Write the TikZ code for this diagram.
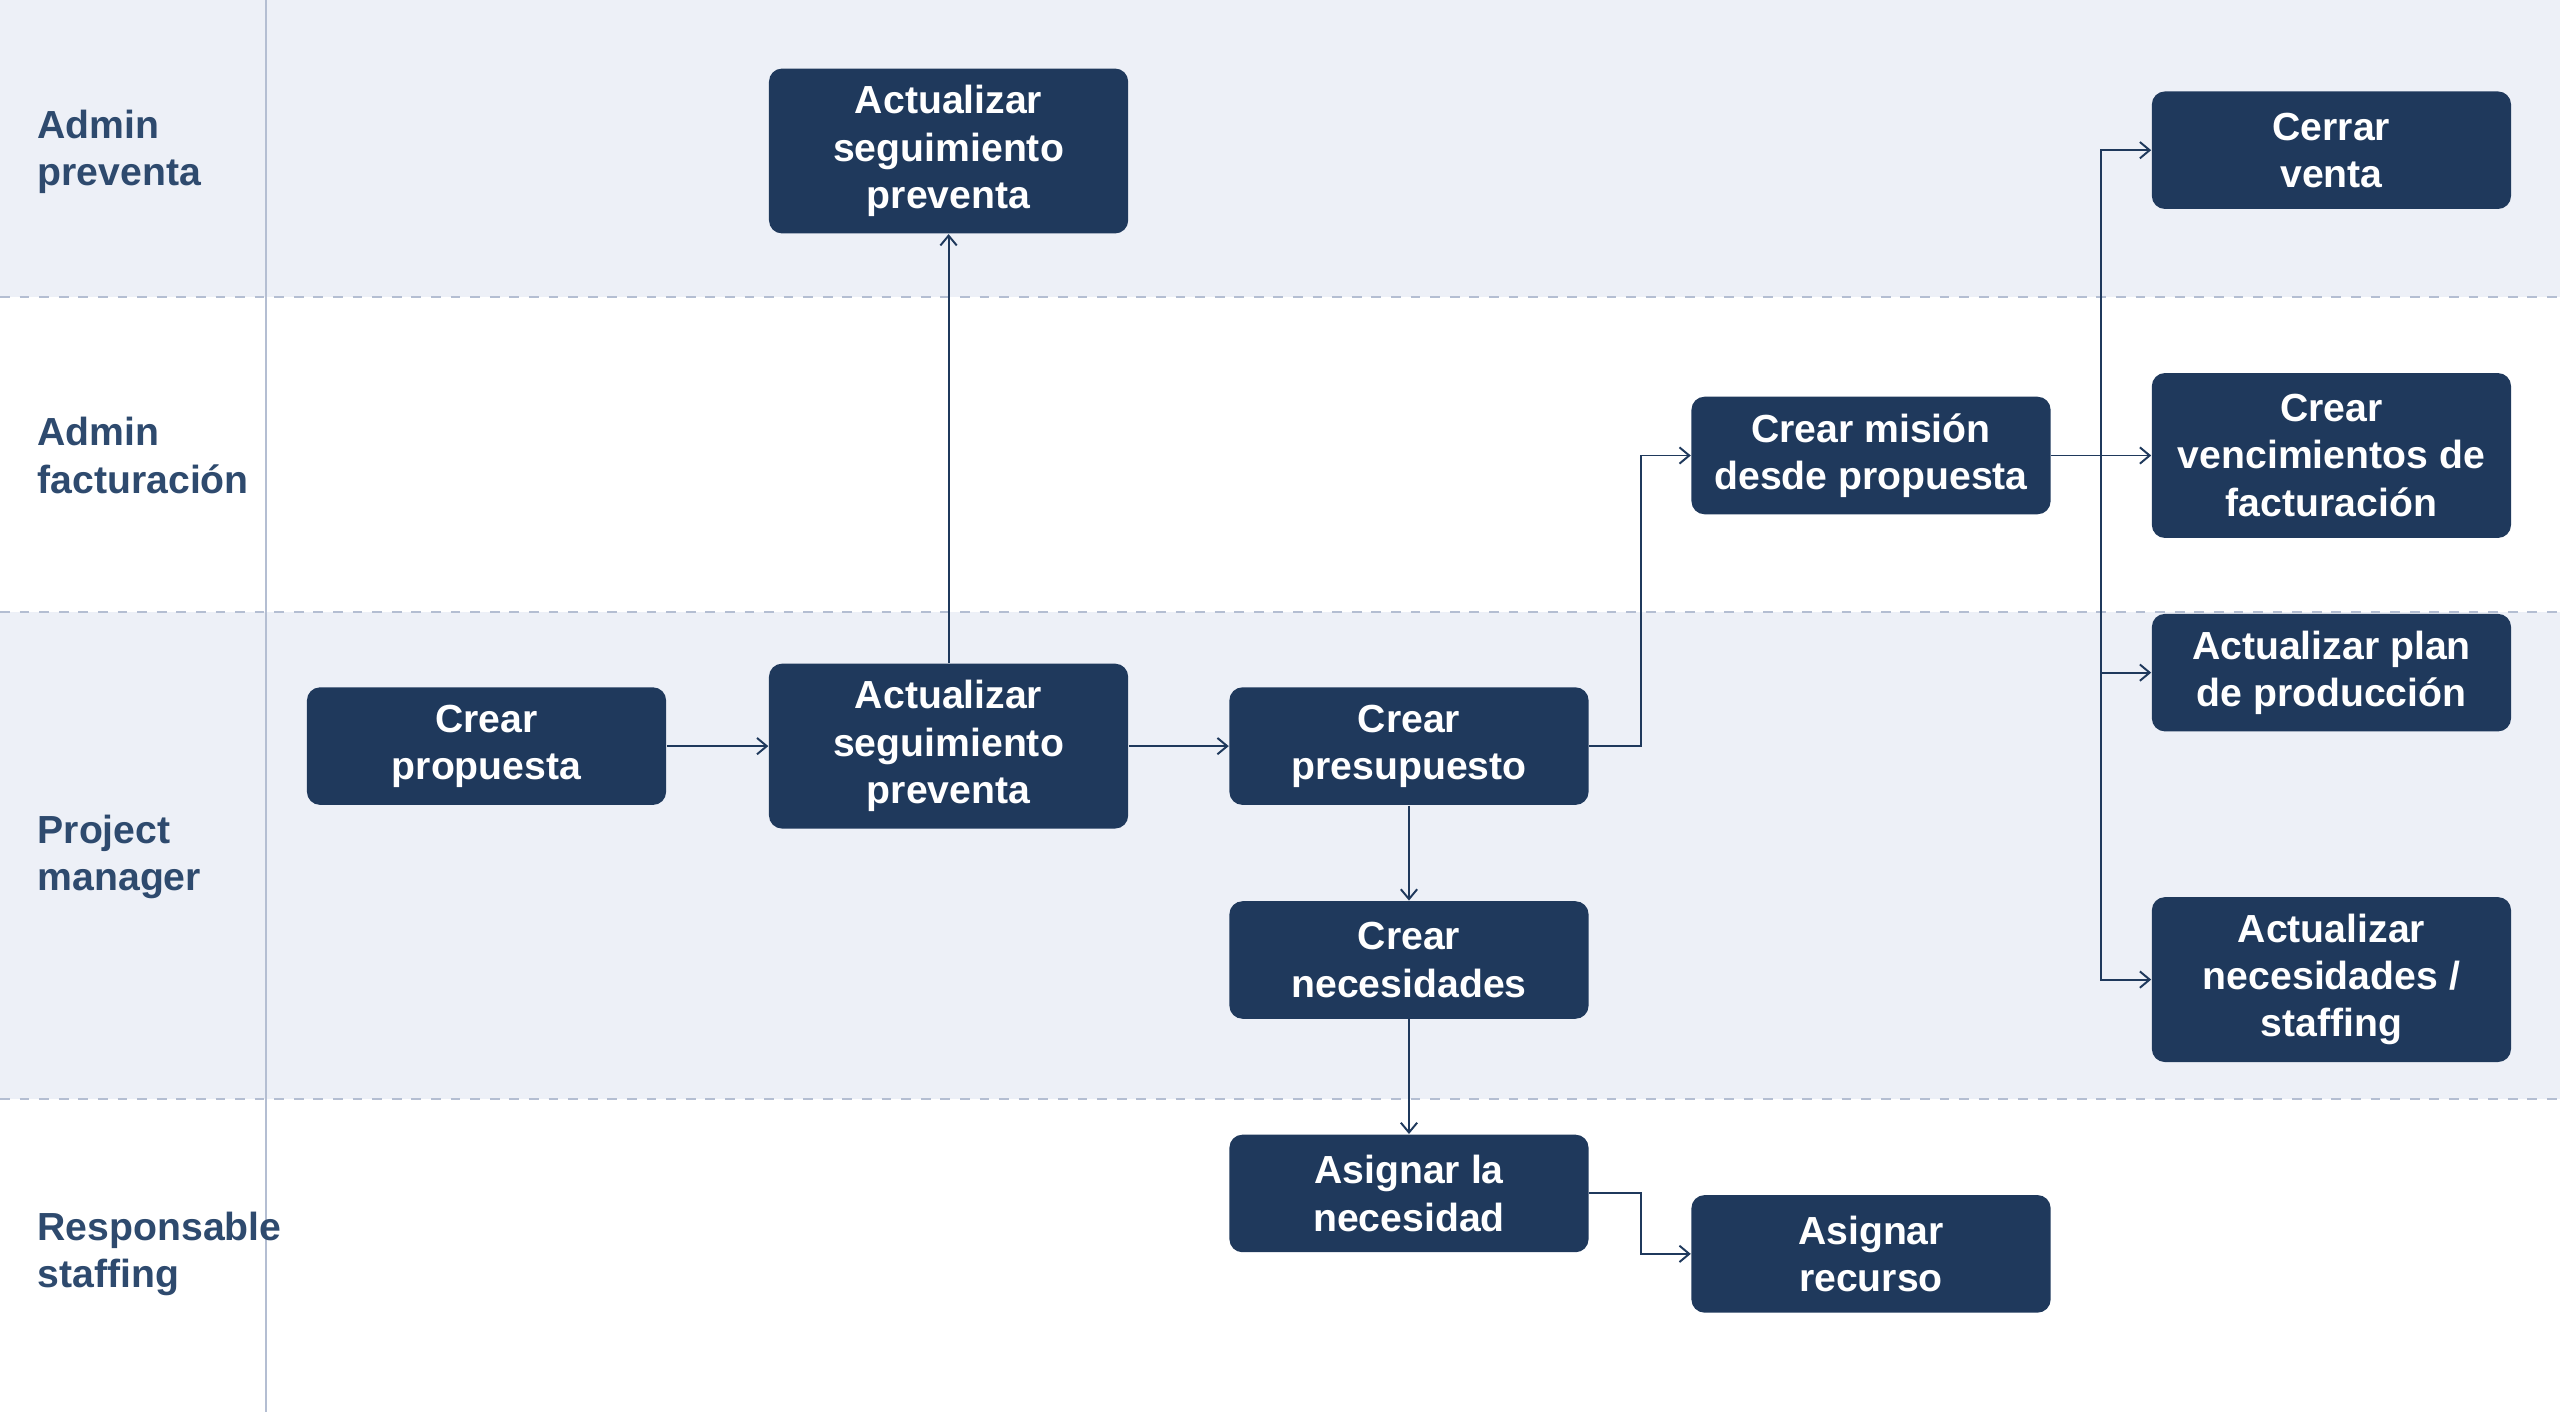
\documentclass[tikz,border=0pt]{standalone}
\usepackage{fontspec}
\setmainfont{Liberation Sans}
\usetikzlibrary{arrows.meta}
\definecolor{navy}{HTML}{1F395C}
\definecolor{lanebg}{HTML}{EDF0F7}
\definecolor{lanetxt}{HTML}{2E4A6E}
\definecolor{sep}{HTML}{B4BED2}
\begin{document}
\begin{tikzpicture}[x=0.5pt,y=-0.5pt,
  box/.style={draw=none,fill=navy,rounded corners=4pt,text=white,align=center,
    minimum width=110pt,font=\fontsize{12}{14.5}\selectfont\bfseries,inner sep=2pt},
  sbox/.style={box,minimum height=36pt},
  tbox/.style={box,minimum height=50.5pt},
  lane/.style={text=lanetxt,align=left,anchor=west,font=\fontsize{12}{14.5}\selectfont\bfseries},
  conn/.style={draw=navy,line width=0.6pt,-{Straight Barb[length=3pt,width=5pt]}}]
\useasboundingbox (0,0) rectangle (1568,865);
\fill[lanebg] (0,0) rectangle (1568,182);
\fill[lanebg] (0,375) rectangle (1568,673);
\draw[sep,dashed,line width=0.5pt] (0,182) -- (1568,182) (0,375) -- (1568,375) (0,673) -- (1568,673);
\draw[sep,line width=0.5pt] (163,0) -- (163,865);
\node[lane] (l1) at (16,93) {Admin\\preventa};
\node[lane] (l2) at (16,279) {Admin\\facturación};
\node[lane] (l3) at (16,525) {Project\\manager};
\node[lane] (l4) at (16,768) {Responsable\\staffing};
\node[tbox] (asp1) at (581,92.5) {Actualizar\\seguimiento\\preventa};
\node[sbox] (cp) at (298,457) {Crear\\propuesta};
\node[tbox] (asp2) at (581,457) {Actualizar\\seguimiento\\preventa};
\node[sbox] (pres) at (863,457) {Crear\\presupuesto};
\node[sbox] (nec) at (863,588) {Crear\\necesidades};
\node[sbox] (asn) at (863,731) {Asignar la\\necesidad};
\node[sbox] (rec) at (1146,768) {Asignar\\recurso};
\node[sbox] (mis) at (1146,279) {Crear misión\\desde propuesta};
\node[sbox] (cv) at (1428,92) {Cerrar\\venta};
\node[tbox] (ven) at (1428,279) {Crear\\vencimientos de\\facturación};
\node[sbox] (plan) at (1428,412) {Actualizar plan\\de producción};
\node[tbox] (stf) at (1428,600) {Actualizar\\necesidades /\\staffing};
\draw[conn] (cp) -- (asp2);
\draw[conn] (asp2) -- (asp1);
\draw[conn] (asp2) -- (pres);
\draw[conn] (pres.east) -- (1005,457) |- (mis.west);
\draw[conn] (pres) -- (nec);
\draw[conn] (nec) -- (asn);
\draw[conn] (asn.east) -- (1005,731) |- (rec.west);
\coordinate (br) at (1287,279);
\draw[conn] (mis) -- (ven);
\draw[conn] (br) |- (cv.west);
\draw[conn] (br) |- (plan.west);
\draw[conn] (br) |- (stf.west);
\end{tikzpicture}
\end{document}
